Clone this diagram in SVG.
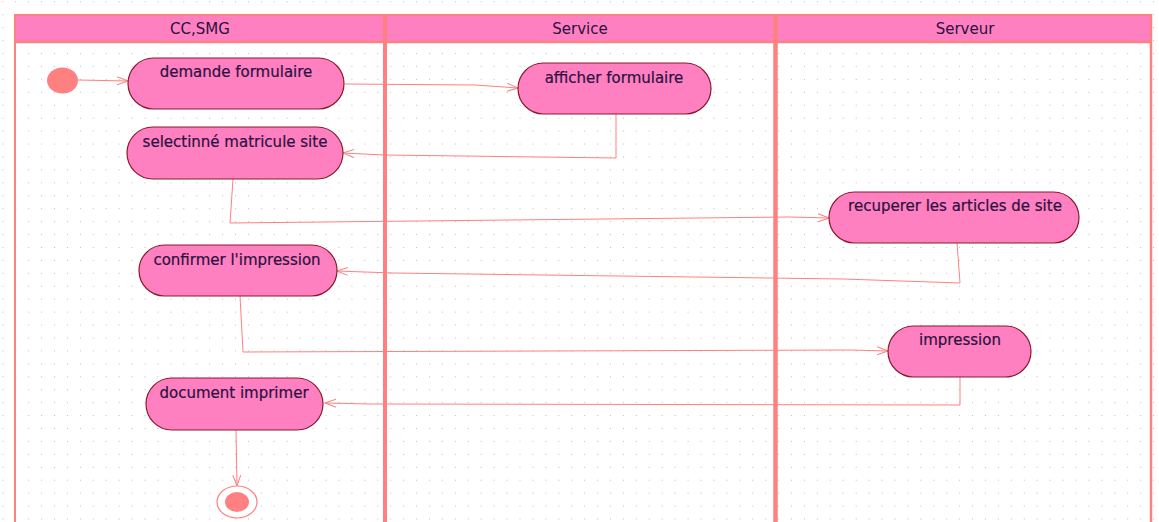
<svg xmlns="http://www.w3.org/2000/svg" width="1159" height="522" viewBox="0 0 1159 522">
  <defs>
    <pattern id="grid" x="2.3" y="1.3" width="12.93" height="12.93" patternUnits="userSpaceOnUse">
      <rect x="0" y="0" width="1" height="1" fill="#bdbdbd"/>
    </pattern>
    <marker id="open" viewBox="0 0 12 10" refX="11" refY="5" markerWidth="12" markerHeight="10" markerUnits="userSpaceOnUse" orient="auto">
      <path d="M0,1 L11,5 L0,9" fill="none" stroke="#ff8080" stroke-width="1"/>
    </marker>
    <style>
      .lane-line { stroke: #ff8080; fill: none; }
      .hdr { fill: #ff80c0; }
      .hdr-text { font-family: "DejaVu Sans", Verdana, sans-serif; font-size: 15px; fill: #2a1040; text-anchor: middle; }
      .act { fill: #ff80c0; stroke: #8b1a2a; stroke-width: 1.2; }
      .act-text { font-family: "DejaVu Sans", Verdana, sans-serif; font-size: 15px; fill: #2a1040; text-anchor: middle; stroke: #2a1040; stroke-width: 0.2; }
      .flow { fill: none; stroke: #ff8080; stroke-width: 1; marker-end: url(#open); }
      .pseudo { fill: #ff8080; }
    </style>
  </defs>

  <!-- canvas with dotted grid -->
  <rect x="0" y="0" width="1159" height="522" fill="#ffffff"/>
  <rect x="0" y="0" width="1159" height="522" fill="url(#grid)"/>

  <!-- swimlanes -->
  <g id="lanes">
    <rect class="hdr" x="15" y="15" width="1136" height="27"/>
    <line class="lane-line" x1="14" y1="15" x2="1152" y2="15" stroke-width="2"/>
    <line class="lane-line" x1="14" y1="42" x2="1152" y2="42" stroke-width="2.5"/>
    <line class="lane-line" x1="15" y1="14" x2="15" y2="522" stroke-width="2"/>
    <line class="lane-line" x1="385" y1="14" x2="385" y2="522" stroke-width="4"/>
    <line class="lane-line" x1="775.5" y1="14" x2="775.5" y2="522" stroke-width="4.5"/>
    <line class="lane-line" x1="1151" y1="14" x2="1151" y2="522" stroke-width="2.5"/>
    <text class="hdr-text" x="200" y="34">CC,SMG</text>
    <text class="hdr-text" x="580" y="34">Service</text>
    <text class="hdr-text" x="965" y="34">Serveur</text>
  </g>

  <!-- control flows -->
  <g id="connectors">
    <path class="flow" d="M78,80 L128,81"/>
    <path class="flow" d="M345,84 L475,85 L518,88"/>
    <path class="flow" d="M616,114 L616,158 L385,155 L343,153"/>
    <path class="flow" d="M233,179 L230,223 L790,217 L829,218"/>
    <path class="flow" d="M957,243 L960,283 L843,279 L393,273 L337,271"/>
    <path class="flow" d="M240,296 L243,352 L850,350 L888,351"/>
    <path class="flow" d="M960,377 L960,405 L370,404 L325,403"/>
    <path class="flow" d="M236,430 L237,486"/>
  </g>

  <g id="initial">
    <ellipse class="pseudo" cx="62.5" cy="80.5" rx="15.5" ry="13"/>
  </g>

  <g id="demande-formulaire">
    <rect class="act" x="128" y="58" width="216" height="51" rx="25.5" ry="25.5"/>
    <text class="act-text" x="236" y="77">demande formulaire</text>
  </g>

  <g id="afficher-formulaire">
    <rect class="act" x="518" y="63" width="193" height="51" rx="25.5" ry="25.5"/>
    <text class="act-text" x="614" y="83">afficher formulaire</text>
  </g>

  <g id="selectionne-matricule-site">
    <rect class="act" x="127" y="127" width="216" height="52" rx="26" ry="26"/>
    <text class="act-text" x="235" y="147">selectinné matricule site</text>
  </g>

  <g id="recuperer-articles">
    <rect class="act" x="829" y="192" width="250" height="51" rx="25.5" ry="25.5"/>
    <text class="act-text" x="955" y="211">recuperer les articles de site</text>
  </g>

  <g id="confirmer-impression">
    <rect class="act" x="139" y="245" width="198" height="51" rx="25.5" ry="25.5"/>
    <text class="act-text" x="237" y="265">confirmer l'impression</text>
  </g>

  <g id="impression">
    <rect class="act" x="888" y="326" width="143" height="51" rx="25.5" ry="25.5"/>
    <text class="act-text" x="960" y="345">impression</text>
  </g>

  <g id="document-imprimer">
    <rect class="act" x="146" y="378" width="177" height="52" rx="26" ry="26"/>
    <text class="act-text" x="234" y="398">document imprimer</text>
  </g>

  <g id="final">
    <ellipse cx="237" cy="502" rx="20" ry="16" fill="#ffffff" stroke="#ff8080" stroke-width="1.2"/>
    <ellipse class="pseudo" cx="237" cy="502" rx="12" ry="10"/>
  </g>
</svg>
